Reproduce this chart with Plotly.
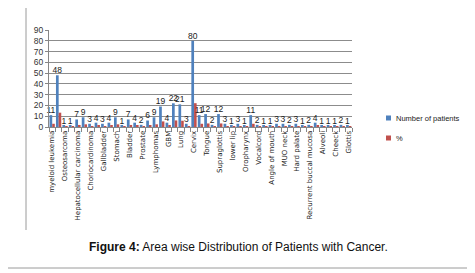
import plotly.graph_objects as go

categories = ["myeloid leukemia", "c2", "Osteosarcoma", "c4", "Hepatocellular carcinoma", "c6",
              "Choriocardinoma", "c8", "Gallbladder", "c10", "Stomach", "c12", "Bladder", "c14",
              "Prostate", "c16", "Lymphomas", "c18", "GBM", "c20", "Lung", "c22", "Cervix", "c24",
              "Tongue", "c26", "Supraglottis", "c28", "lower lip", "c30", "Oropharynx", "c32",
              "Vocalcord", "c34", "Angle of mouth", "c36", "MUO neck", "c38", "Hard palate", "c40",
              "Recurrent buccal mucosa", "c42", "Alveoli", "c44", "Cheeck", "c46", "Glottis"]
patients = [11, 48, 1, 1, 7, 9, 3, 4, 3, 4, 9, 1, 7, 4, 2, 6, 9, 19, 4, 22, 21, 3, 80, 11,
            12, 2, 12, 3, 1, 3, 1, 11, 2, 1, 1, 3, 3, 2, 3, 1, 2, 4, 1, 1, 1, 2, 1]
total = sum(patients)
percent = [round(v * 100 / total, 1) for v in patients]
series_names = ["Number of patients", "%"]

idx = list(range(len(patients)))
shown_idx = idx[::2]
shown_labels = categories[::2]

W, H = 475, 273
OFF = 8  # default page body margin shifts the figure by 8px
L, R, T, B = 49, 352, 30, 127  # plot area in window pixels


def px(x):
    return (x - L) / (R - L)


def py(y):
    return (B - y) / (B - T)


BLUE = "#4F81BD"
RED = "#C0504D"
FONT = "Liberation Sans, Arial"

fig = go.Figure()
fig.add_trace(go.Bar(x=idx, y=patients, name=series_names[0], marker_color=BLUE,
                     offset=-0.42, width=0.42, marker_line_width=0, showlegend=False))
fig.add_trace(go.Bar(x=idx, y=percent, name=series_names[1], marker_color=RED,
                     offset=0.0, width=0.4, marker_line_width=0, showlegend=False))
fig.add_trace(go.Scatter(x=[i - 0.21 for i in idx], y=patients, mode="text",
                         text=[str(v) for v in patients], textposition="top center",
                         textfont=dict(family=FONT, size=8.5, color="#222222"),
                         showlegend=False, hoverinfo="skip", cliponaxis=False))

shapes = [
    dict(type="rect", xref="paper", yref="paper", x0=px(4), x1=px(471.5), y0=py(268), y1=py(-5),
         line=dict(color="#9a9a9a", width=1)),
    dict(type="line", xref="paper", yref="paper", x0=px(26), x1=px(26), y0=py(230), y1=py(-5),
         line=dict(color="#9a9a9a", width=1)),
]
annotations = []
legend_rows = [(series_names[0], BLUE, 118), (series_names[1], RED, 138)]
for name, col, yy in legend_rows:
    shapes.append(dict(type="rect", xref="paper", yref="paper", x0=px(386), x1=px(391),
                       y0=py(yy + 2.5), y1=py(yy - 2.5), fillcolor=col, line=dict(width=0)))
    annotations.append(dict(xref="paper", yref="paper", x=px(394), y=py(yy), xanchor="left",
                            yanchor="middle", showarrow=False, text=name,
                            font=dict(family=FONT, size=7.5, color="#222222")))
annotations.append(dict(xref="paper", yref="paper", x=px(238), y=py(247), xanchor="center",
                        yanchor="middle", showarrow=False,
                        text="<b>Figure 4:</b> Area wise Distribution of Patients with Cancer.",
                        font=dict(family=FONT, size=12, color="#111111")))

fig.update_layout(
    width=W, height=H,
    margin=dict(l=L - OFF, r=W - (R - OFF), t=T - OFF, b=H - (B - OFF)),
    paper_bgcolor="white", plot_bgcolor="white",
    barmode="overlay",
    showlegend=False,
    xaxis=dict(range=[-0.5, len(idx) - 0.5], tickmode="array", tickvals=shown_idx,
               ticktext=shown_labels, tickangle=-90, showgrid=False, ticks="",
               showline=True, linecolor="#868686", linewidth=1,
               tickfont=dict(family="DejaVu Sans", size=7, color="#222222"),
               minor=dict(tickmode="array", tickvals=[i - 0.5 for i in idx] + [len(idx) - 0.5],
                          ticks="outside", ticklen=4, tickcolor="#868686", showgrid=False),
               zeroline=False, automargin=False),
    yaxis=dict(range=[0, 90], dtick=10, showgrid=True, gridcolor="#8c8c8c", gridwidth=1,
               showline=True, linecolor="#868686", linewidth=1, zeroline=False,
               ticks="outside", ticklen=3, tickcolor="#868686", automargin=False,
               tickfont=dict(family=FONT, size=8.5, color="#333333")),
    shapes=shapes,
    annotations=annotations,
)

fig.write_html("out.html")
